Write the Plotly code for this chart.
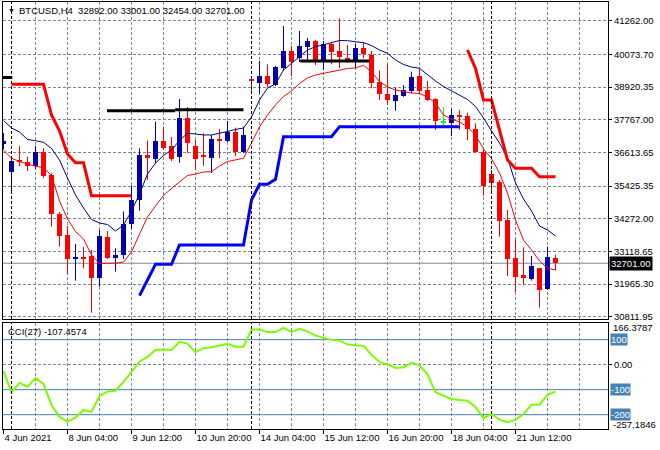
import plotly.graph_objects as go

# ---------------- data (BTCUSD H4, bar index 0 = 7 Jun 2021 00:00) ----------------
bar_index = list(range(-1, 69))

open_ = [36910, 35932, 36327, 36264, 36116, 36627, 35816, 34456, 33680, 32868,
         32910, 32946, 32169, 33627, 32903, 32974, 34086, 34933, 36522, 36380,
         37016, 36839, 36451, 37828, 36839, 36504, 36398, 37069, 37026, 37316,
         36638, 39169, 39073, 39293, 38993, 39603, 40193, 39935, 40344, 40546,
         39840, 40429, 40193, 39935, 39875, 40288, 40052, 39109, 38675, 38438,
         38615, 38791, 39310, 38816, 38498, 37662, 37662, 37916, 37881, 37429,
         36610, 35851, 35579, 34227, 32875, 32286, 32155, 32522, 31774, 32892]
high = [37298, 36461, 36839, 36461, 36839, 36758, 35876, 34509, 34015, 33380,
        33274, 33168, 33874, 33839, 33228, 34527, 35445, 36758, 37033, 37697,
        37521, 37157, 38498, 38216, 37051, 37288, 37228, 37440, 37722, 37485,
        37521, 39310, 39840, 39723, 39663, 41075, 40369, 40899, 40652, 40581,
        40546, 40521, 41347, 40405, 40440, 40500, 40193, 39497, 39716, 38911,
        38993, 39462, 39557, 39134, 38523, 38205, 38145, 38110, 38015, 37641,
        36698, 35992, 35639, 34580, 33546, 33257, 32956, 32533, 33285, 33001]
low = [36723, 35226, 36133, 35957, 36027, 35710, 33990, 33285, 32321, 32084,
       32522, 30955, 31872, 32850, 32408, 32850, 33909, 34555, 35639, 36228,
       36698, 36310, 36250, 36592, 35992, 36144, 35886, 36416, 36980, 36486,
       36592, 38675, 38699, 38911, 38957, 39522, 39310, 39804, 39804, 39699,
       39522, 39723, 39593, 39780, 39593, 39935, 38876, 38463, 38287, 38085,
       38576, 38699, 38699, 38428, 37404, 37520, 37192, 37404, 37051, 36592,
       35085, 35226, 33638, 32250, 31685, 31932, 32092, 31138, 31756, 32454]
close = [37016, 36310, 36274, 36133, 36627, 35791, 34456, 33662, 32861, 32903,
         32875, 32169, 33662, 32886, 32992, 34086, 34933, 36522, 36398, 37016,
         36779, 36380, 37845, 36945, 36380, 36469, 37076, 37033, 37323, 36627,
         37228, 39134, 39310, 39017, 39617, 40193, 39794, 40369, 40546, 39840,
         40429, 40168, 39970, 39840, 40288, 40076, 39053, 38664, 38463, 38640,
         38816, 39264, 38791, 38463, 37732, 37662, 37933, 37881, 37429, 36610,
         35438, 35544, 34203, 32850, 32225, 32162, 32603, 31767, 32921, 32701]

ma_slow = [37739, 37475, 37333, 37069, 37026, 36970, 36751, 36345, 35710, 35110,
           34651, 34245, 34121, 34068, 33839, 34051, 34545, 35145, 35851, 36239,
           36504, 36698, 37033, 37288, 37263, 37228, 37228, 37281, 37351, 37422,
           37475, 37863, 38463, 38887, 39028, 39522, 39752, 39992, 40228, 40345,
           40405, 40486, 40563, 40556, 40521, 40486, 40387, 40228, 40111, 39875,
           39716, 39628, 39582, 39346, 39134, 38940, 38781, 38640, 38481, 38234,
           37828, 37369, 36945, 36416, 35533, 34968, 34545, 34015, 33874, 33662]
ma_fast = [36698, 36405, 36292, 36204, 36123, 36073, 35798, 34898, 34262, 33821,
           33556, 32992, 32692, 32699, 32699, 32745, 33097, 33733, 34333, 34721,
           35092, 35339, 35569, 35798, 35851, 35921, 35932, 36133, 36292, 36345,
           36405, 36945, 37510, 37933, 38287, 38587, 38781, 39046, 39240, 39346,
           39406, 39462, 39522, 39575, 39593, 39688, 39451, 39116, 38922, 38816,
           38756, 38710, 38693, 38569, 38357, 37933, 37792, 37686, 37510, 37228,
           36733, 36398, 35886, 35180, 34227, 33521, 33168, 32780, 32533, 32462]

resist_a_bars = list(range(0, 16))
resist_a = [39017, 39017, 39017, 39017, 39017, 37933, 37370, 36557, 36250, 36250,
            35085, 35085, 35085, 35085, 35085, 35085]
resist_b_bars = list(range(57, 69))
resist_b = [40228, 39582, 38463, 38463, 37404, 36345, 36052, 36052, 36052, 35755, 35755, 35755]
support_bars = list(range(16, 57))
support = [31555, 32109, 32663, 32663, 32663, 33344, 33344, 33344, 33344, 33344,
           33344, 33344, 33344, 33344, 34933, 35487, 35487, 35664, 37168, 37168,
           37168, 37168, 37168, 37168, 37168, 37521, 37521, 37521, 37521, 37521,
           37521, 37521, 37521, 37521, 37521, 37521, 37521, 37521, 37521, 37521, 37521]

level_start = [-1.5, 11.93, 20.46, 36.08]
level_end = [0.1, 20.46, 29.0, 44.71]
level_value = [39257, 38085, 38120, 39840]

cci = [-26, -110, -73, -88, -54, -77, -161, -209, -228, -212,
       -181, -189, -125, -107, -104, -69, -29, 12, 31, 59,
       61, 59, 91, 84, 50, 66, 70, 76, 83, 72,
       72, 140, 140, 130, 130, 147, 131, 143, 133, 116,
       107, 99, 96, 81, 78, 76, 39, 11, 1, -13,
       -10, 7, -3, -39, -110, -124, -137, -141, -144, -169,
       -214, -197, -220, -230, -221, -197, -160, -160, -121, -107.4574]

price_ticks = [41262.00, 40073.70, 38920.35, 37767.00, 36613.65,
               35425.35, 34272.00, 33118.65, 31965.30, 30811.95]
time_label_bars = [-1, 7, 15, 23, 31, 39, 47, 55, 63]
time_labels = ["4 Jun 2021", "8 Jun 04:00", "9 Jun 12:00", "10 Jun 20:00", "14 Jun 04:00",
               "15 Jun 12:00", "16 Jun 20:00", "18 Jun 04:00", "21 Jun 12:00"]
grid_bars = list(range(-1, 75, 4))
week_start_bars = [0, 30, 60]
cci_levels = [100, -100, -200]
cci_max, cci_min = 166.3787, -257.1846
cci_period = 27
symbol = "BTCUSD,H4"
last_ohlc = [32892.00, 33001.00, 32454.00, 32701.00]
bid = 32701.00

# ---------------- style ----------------
BULL = "#0000B0"
BEAR = "#FF0000"
DOJI = "#00FF00"
GRID = "#778899"
FONT = "Liberation Sans, Arial, sans-serif"
FS = 9.5
x_range = [-1.0625, 74.5625]
y_range = [30732, 41922]
min_body = (y_range[1] - y_range[0]) / 317.0

fig = go.Figure()

def add_candles(ids, color):
    wx, wy = [], []
    for k in ids:
        wx += [bar_index[k], bar_index[k], None]
        wy += [low[k], high[k], None]
    fig.add_trace(go.Scatter(x=wx, y=wy, mode="lines", line=dict(color=color, width=1),
                             hoverinfo="skip", xaxis="x", yaxis="y"))
    fig.add_trace(go.Bar(x=[bar_index[k] for k in ids],
                         base=[min(open_[k], close[k]) for k in ids],
                         y=[max(abs(close[k] - open_[k]), min_body) for k in ids],
                         width=0.625, marker=dict(color=color, line=dict(width=0)),
                         hoverinfo="skip", xaxis="x", yaxis="y"))

n = len(bar_index)
add_candles([k for k in range(n) if close[k] > open_[k]], BULL)
add_candles([k for k in range(n) if close[k] < open_[k]], BEAR)
add_candles([k for k in range(n) if close[k] == open_[k]], DOJI)

# moving averages
fig.add_trace(go.Scatter(x=bar_index, y=ma_slow, mode="lines", line=dict(color="#000080", width=1),
                         hoverinfo="skip", xaxis="x", yaxis="y"))
fig.add_trace(go.Scatter(x=bar_index, y=ma_fast, mode="lines", line=dict(color="#FF0000", width=1),
                         hoverinfo="skip", xaxis="x", yaxis="y"))
# stop lines
for bx, by in ((resist_a_bars, resist_a), (resist_b_bars, resist_b)):
    fig.add_trace(go.Scatter(x=bx, y=by, mode="lines", line=dict(color="#FF0000", width=3),
                             hoverinfo="skip", xaxis="x", yaxis="y"))
fig.add_trace(go.Scatter(x=support_bars, y=support, mode="lines", line=dict(color="#0000FF", width=3),
                         hoverinfo="skip", xaxis="x", yaxis="y"))
# black levels
lx, ly = [], []
for s, e, v in zip(level_start, level_end, level_value):
    lx += [s, e, None]
    ly += [v, v, None]
fig.add_trace(go.Scatter(x=lx, y=ly, mode="lines", line=dict(color="black", width=3),
                         hoverinfo="skip", xaxis="x", yaxis="y"))

# CCI
fig.add_trace(go.Scatter(x=bar_index, y=cci, mode="lines", line=dict(color="#7CFC00", width=2),
                         hoverinfo="skip", xaxis="x2", yaxis="y2"))

shapes = []
for w in week_start_bars:
    for yr in ("y domain", "y2 domain"):
        shapes.append(dict(type="line", xref="x", yref=yr, x0=w, x1=w, y0=0, y1=1,
                           line=dict(color="black", width=1, dash="3px,2px")))
shapes.append(dict(type="line", xref="x domain", yref="y", x0=0, x1=1, y0=bid, y1=bid,
                   line=dict(color=GRID, width=1), layer="below"))
for lv in cci_levels:
    shapes.append(dict(type="line", xref="x2 domain", yref="y2", x0=0, x1=1, y0=lv, y1=lv,
                       line=dict(color="#4682B4", width=1), layer="below"))

annotations = [
    dict(xref="x domain", yref="y domain", x=0, y=1, xanchor="left", yanchor="middle",
         xshift=3, yshift=-8, text="▼", showarrow=False, font=dict(size=7, color="black")),
    dict(xref="x domain", yref="y domain", x=0, y=1, xanchor="left", yanchor="middle",
         xshift=14, yshift=-8, showarrow=False,
         text=symbol + "&nbsp;&nbsp;" + " ".join(f"{v:.2f}" for v in last_ohlc),
         font=dict(size=FS, color="black")),
    dict(xref="x domain", yref="y2 domain", x=0, y=1, xanchor="left", yanchor="middle",
         xshift=3, yshift=-8, showarrow=False,
         text=f"CCI({cci_period}) {cci[-1]:.4f}", font=dict(size=FS, color="black")),
    dict(xref="paper", yref="y", x=1, y=bid, xanchor="left", yanchor="middle", xshift=1,
         showarrow=False, text=f"{bid:.2f}", bgcolor="black", borderpad=1,
         font=dict(size=FS, color="white")),
    dict(xref="paper", yref="y2", x=1, y=cci_max, xanchor="left", yanchor="top", xshift=4,
         yshift=2, borderpad=0,
         showarrow=False, text=f"{cci_max:.4f}", font=dict(size=FS, color="black")),
    dict(xref="paper", yref="y2", x=1, y=cci_min, xanchor="left", yanchor="bottom", xshift=4,
         yshift=-2, borderpad=0,
         showarrow=False, text=f"{cci_min:.4f}", font=dict(size=FS, color="black")),
]
for lv in cci_levels:
    annotations.append(dict(xref="paper", yref="y2", x=1, y=lv, xanchor="left", yanchor="middle",
                            xshift=2, showarrow=False, text=f"{lv}", bgcolor="#4682B4", borderpad=0,
                            font=dict(size=FS, color="white")))

axis_common = dict(showline=True, linecolor="black", linewidth=1, mirror=True, zeroline=False)
grid_common = dict(showgrid=True, gridcolor=GRID, gridwidth=1, griddash="3px,2px")

fig.update_layout(
    width=660, height=450, margin=dict(l=3, r=52, t=2, b=21),
    paper_bgcolor="white", plot_bgcolor="white",
    barmode="overlay", bargap=0, showlegend=False,
    font=dict(family=FONT, size=FS, color="black"),
    shapes=shapes, annotations=annotations,
    xaxis=dict(domain=[0, 1], anchor="y", range=x_range, tickvals=time_label_bars,
               showticklabels=False, ticks="",
               minor=dict(tickvals=grid_bars, showgrid=True, gridcolor=GRID, griddash="3px,2px"),
               **grid_common, **axis_common),
    yaxis=dict(domain=[0.2576, 1], anchor="x", range=y_range, side="right",
               tickvals=price_ticks, ticktext=[f"{v:.2f}" for v in price_ticks],
               ticks="outside", ticklen=3, tickcolor="black",
               **grid_common, **axis_common),
    xaxis2=dict(domain=[0, 1], anchor="y2", range=x_range, matches="x",
                tickvals=time_label_bars, ticktext=time_labels,
                ticks="outside", ticklen=4, tickcolor="black",
                ticklabelposition="outside right",
                minor=dict(tickvals=grid_bars, showgrid=True, gridcolor=GRID, griddash="3px,2px"),
                **grid_common, **axis_common),
    yaxis2=dict(domain=[0, 0.2482], anchor="x2", range=[cci_min, cci_max], side="right",
                tickvals=[0], ticktext=["0.00"], ticks="outside", ticklen=3, tickcolor="black",
                **grid_common, **axis_common),
)

fig.write_html("out.html", config={"displayModeBar": False},
               post_script="document.body.style.margin='0';")
